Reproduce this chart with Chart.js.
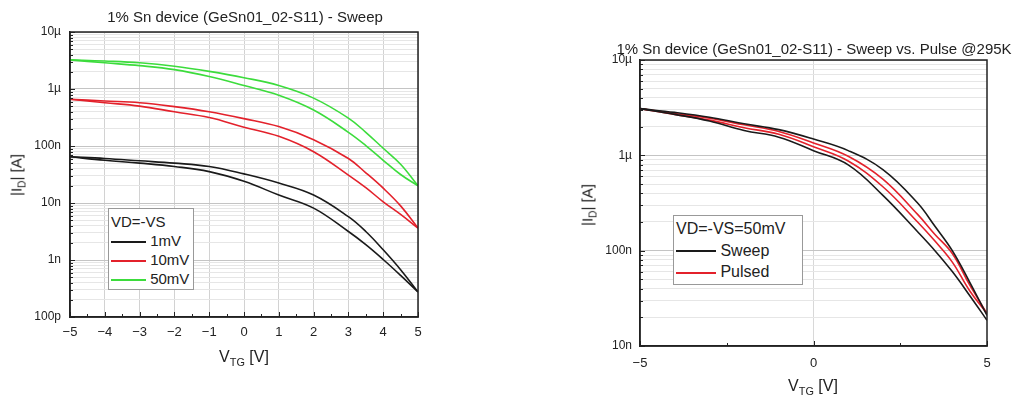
<!DOCTYPE html>
<html>
<head>
<meta charset="utf-8">
<script src="https://cdn.jsdelivr.net/npm/chart.js@4.4.1/dist/chart.umd.min.js"></script>
<style>
  body { margin: 0; background: #fff; font-family: Arial, "Liberation Sans", sans-serif; color: #222; }
  #wrap { position: relative; width: 1029px; height: 401px; overflow: hidden; }
  canvas { position: absolute; top: 0; }
  .t { position: absolute; white-space: nowrap; transform: translate(-50%, -50%); }
  .rot { transform: translate(-50%, -50%) rotate(-90deg); }
  sub { font-size: 0.68em; vertical-align: -0.35em; line-height: 0; }
  .legend { position: absolute; background: #fff; border: 1px solid #999; box-sizing: border-box; }
  .legend div { white-space: nowrap; }
  .legend span.ln { display: inline-block; height: 2px; vertical-align: middle; }
</style>
</head>
<body>
<div id="wrap">
  <canvas id="leftChart" width="430" height="401" style="left:0"></canvas>
  <canvas id="rightChart" width="469" height="401" style="left:560px"></canvas>

  <div class="t" style="left:245px; top:16px; font-size:15px">1% Sn device (GeSn01_02-S11) - Sweep</div>
  <div class="t rot" style="left:16px; top:175px; font-size:15px">|I<sub>D</sub>| [A]</div>
  <div class="t" style="left:244px; top:357px; font-size:16px">V<sub>TG</sub> [V]</div>

  <div class="t" style="left:814px; top:48px; font-size:15px">1% Sn device (GeSn01_02-S11) - Sweep vs. Pulse @295K</div>
  <div class="t rot" style="left:587px; top:205px; font-size:15px">|I<sub>D</sub>| [A]</div>
  <div class="t" style="left:813px; top:386px; font-size:16px">V<sub>TG</sub> [V]</div>

  <div class="legend" id="legLeft" style="left:108px; top:208px; width:86px; height:82px; padding:3px 0 0 2px; font-size:15px; line-height:19px"></div>
  <div class="legend" id="legRight" style="left:673px; top:215px; width:130px; height:70px; padding:2px 0 0 2px; font-size:16px; line-height:21.5px"></div>
</div>

<script>
// ---- left plot: VD=-VS sweep, three drain biases (upper / lower branch of each loop)
const vtgLeft = [-5, -4, -3, -2, -1, 0, 1, 2, 3, 3.5, 4, 4.5, 5];
const i1mVUp    = [6.46e-8, 6.03e-8, 5.50e-8, 5.01e-8, 4.37e-8, 3.24e-8, 2.24e-8, 1.38e-8, 5.75e-9, 3.16e-9, 1.51e-9, 6.76e-10, 2.75e-10];
const i1mVDown  = [6.46e-8, 5.62e-8, 5.01e-8, 4.37e-8, 3.55e-8, 2.40e-8, 1.38e-8, 8.13e-9, 3.16e-9, 1.86e-9, 1.02e-9, 5.37e-10, 2.75e-10];
const i10mVUp   = [6.61e-7, 6.17e-7, 5.75e-7, 4.90e-7, 3.98e-7, 3.02e-7, 2.19e-7, 1.29e-7, 6.03e-8, 3.39e-8, 1.82e-8, 8.91e-9, 3.63e-9];
const i10mVDown = [6.61e-7, 5.75e-7, 5.01e-7, 3.98e-7, 3.16e-7, 2.14e-7, 1.48e-7, 7.94e-8, 3.09e-8, 1.86e-8, 1.05e-8, 6.31e-9, 3.63e-9];
const i50mVUp   = [3.24e-6, 3.09e-6, 2.88e-6, 2.51e-6, 2.04e-6, 1.58e-6, 1.15e-6, 6.92e-7, 3.09e-7, 1.74e-7, 9.12e-8, 4.79e-8, 2.00e-8];
const i50mVDown = [3.24e-6, 2.88e-6, 2.57e-6, 2.19e-6, 1.66e-6, 1.15e-6, 7.76e-7, 4.27e-7, 1.74e-7, 1.02e-7, 5.62e-8, 3.16e-8, 2.00e-8];
const leftXLabels = ['\u22125', '\u22124', '\u22123', '\u22122', '\u22121', '0', '1', '2', '3', '4', '5'];
const leftDecades = [1e-10, 1e-9, 1e-8, 1e-7, 1e-6, 1e-5];
const leftYLabels = ['100p', '1n', '10n', '100n', '1\u00b5', '10\u00b5'];
const leftLegend = ['1mV', '10mV', '50mV'];

// ---- right plot: 50 mV, sweep vs pulsed
const vtgRight = [-5, -4, -3, -2, -1, 0, 1, 2, 3, 3.5, 4, 4.5, 5];
const sweepUp    = [3.09e-6, 2.82e-6, 2.51e-6, 2.14e-6, 1.86e-6, 1.48e-6, 1.12e-6, 7.08e-7, 3.16e-7, 1.80e-7, 1.00e-7, 4.68e-8, 2.09e-8];
const sweepDown  = [3.09e-6, 2.69e-6, 2.29e-6, 1.82e-6, 1.55e-6, 1.12e-6, 7.94e-7, 3.80e-7, 1.58e-7, 1.00e-7, 6.03e-8, 3.39e-8, 1.86e-8];
const pulsedUp   = [3.09e-6, 2.75e-6, 2.45e-6, 2.09e-6, 1.78e-6, 1.35e-6, 9.77e-7, 5.62e-7, 2.40e-7, 1.48e-7, 9.33e-8, 4.37e-8, 2.19e-8];
const pulsedDown = [3.09e-6, 2.69e-6, 2.34e-6, 1.95e-6, 1.66e-6, 1.23e-6, 8.71e-7, 4.68e-7, 2.00e-7, 1.26e-7, 7.59e-8, 3.80e-8, 2.19e-8];
const rightXLabels = ['\u22125', '0', '5'];
const rightDecades = [1e-8, 1e-7, 1e-6, 1e-5];
const rightYLabels = ['10n', '100n', '1\u00b5', '10\u00b5'];
const rightLegend = ['Sweep', 'Pulsed'];

const BLACK = '#1a1a1a', RED = '#e3212b', GREEN = '#3cdc3c';

function pts(xs, ys) {
  return xs.map((x, i) => ({ x: x, y: ys[i] }));
}

function line(label, xs, ys, color) {
  return {
    label: label,
    data: pts(xs, ys),
    borderColor: color,
    borderWidth: 1.6,
    pointRadius: 0,
    fill: false,
    tension: 0.4
  };
}

function isDecade(v) {
  const l = Math.log10(v);
  return Math.abs(l - Math.round(l)) < 1e-6;
}

// frame on all four sides + small inward ticks like the original plots
const frameTicks = {
  id: 'frameTicks',
  afterDraw(chart, args, opts) {
    const { ctx, chartArea: a, scales: { x, y } } = chart;
    ctx.save();
    ctx.strokeStyle = '#222';
    ctx.lineWidth = 1;
    for (let v = x.min; v <= x.max + 1e-9; v += opts.xMinor) {
      const px = Math.round(x.getPixelForValue(v)) + 0.5;
      const r = v / opts.xMajor;
      const len = Math.abs(r - Math.round(r)) < 1e-6 ? 5 : 3;
      ctx.beginPath();
      ctx.moveTo(px, a.bottom);
      ctx.lineTo(px, a.bottom - len);
      ctx.stroke();
    }
    y.ticks.forEach(t => {
      const py = Math.round(y.getPixelForValue(t.value)) + 0.5;
      const len = isDecade(t.value) ? 5 : 3;
      ctx.beginPath();
      ctx.moveTo(a.left, py);
      ctx.lineTo(a.left + len, py);
      ctx.stroke();
    });
    ctx.lineWidth = 1.5;
    ctx.strokeRect(a.left, a.top, a.right - a.left, a.bottom - a.top);
    ctx.restore();
  }
};

function makeChart(id, datasets, cfg) {
  return new Chart(document.getElementById(id), {
    type: 'line',
    data: { datasets: datasets },
    plugins: [frameTicks],
    options: {
      responsive: false,
      animation: false,
      layout: { padding: cfg.padding },
      plugins: {
        legend: { display: false },
        tooltip: { enabled: false },
        frameTicks: { xMajor: cfg.xStep, xMinor: cfg.xStep / 2 }
      },
      scales: {
        x: {
          type: 'linear',
          min: -5,
          max: 5,
          afterFit: s => { s.height = cfg.xHeight; },
          ticks: {
            stepSize: cfg.xStep,
            color: '#222',
            font: { family: 'Arial, "Liberation Sans"', size: 13 },
            padding: cfg.xPad,
            maxRotation: 0,
            callback: (v, i) => cfg.xLabels[i]
          },
          grid: { color: cfg.xGrid, drawTicks: false },
          border: { color: '#222', width: 1.5 }
        },
        y: {
          type: 'logarithmic',
          min: cfg.decades[0],
          max: cfg.decades[cfg.decades.length - 1],
          afterFit: s => { s.width = cfg.yWidth; },
          afterBuildTicks: s => {
            const t = [];
            cfg.decades.forEach((d, i) => {
              if (i === cfg.decades.length - 1) { t.push({ value: d }); return; }
              for (let k = 1; k < 10; k++) t.push({ value: k * d });
            });
            s.ticks = t;
          },
          ticks: {
            autoSkip: false,
            color: '#222',
            font: { family: 'Arial, "Liberation Sans"', size: 12 },
            padding: cfg.yPad,
            callback: v => {
              const i = cfg.decades.findIndex(d => Math.abs(Math.log10(v) - Math.log10(d)) < 1e-6);
              return i >= 0 ? cfg.yLabels[i] : '';
            }
          },
          grid: {
            drawTicks: false,
            color: c => (c.tick && isDecade(c.tick.value)) ? '#c4c4c4' : '#e6e6e6'
          },
          border: { color: '#222', width: 1.5 }
        }
      }
    }
  });
}

makeChart('leftChart', [
  line('1mV', vtgLeft, i1mVUp, BLACK),
  line('1mV', vtgLeft, i1mVDown, BLACK),
  line('10mV', vtgLeft, i10mVUp, RED),
  line('10mV', vtgLeft, i10mVDown, RED),
  line('50mV', vtgLeft, i50mVUp, GREEN),
  line('50mV', vtgLeft, i50mVDown, GREEN)
], {
  padding: { top: 32, right: 12, left: 0, bottom: 0 },
  xHeight: 84, yWidth: 70, xPad: 8, yPad: 9, xStep: 1,
  xLabels: leftXLabels, xGrid: '#d2d2d2',
  decades: leftDecades, yLabels: leftYLabels
});

makeChart('rightChart', [
  line('Sweep', vtgRight, sweepUp, BLACK),
  line('Sweep', vtgRight, sweepDown, BLACK),
  line('Pulsed', vtgRight, pulsedUp, RED),
  line('Pulsed', vtgRight, pulsedDown, RED)
], {
  padding: { top: 60, right: 42, left: 0, bottom: 0 },
  xHeight: 55, yWidth: 80, xPad: 10, yPad: 8, xStep: 5,
  xLabels: rightXLabels, xGrid: c => (c.tick && c.tick.value === 0) ? '#d8d8d8' : 'rgba(0,0,0,0)',
  decades: rightDecades, yLabels: rightYLabels
});

// legends as text boxes inside the plot areas
function fillLegend(id, title, names, colors, lineW) {
  const box = document.getElementById(id);
  let html = '<div>' + title + '</div>';
  names.forEach((n, i) => {
    html += '<div><span class="ln" style="width:' + lineW + 'px;background:' + colors[i] + '"></span> ' + n + '</div>';
  });
  box.innerHTML = html;
}
fillLegend('legLeft', 'VD=-VS', leftLegend, [BLACK, RED, GREEN], 35);
fillLegend('legRight', 'VD=-VS=50mV', rightLegend, [BLACK, RED], 40);
</script>
</body>
</html>
